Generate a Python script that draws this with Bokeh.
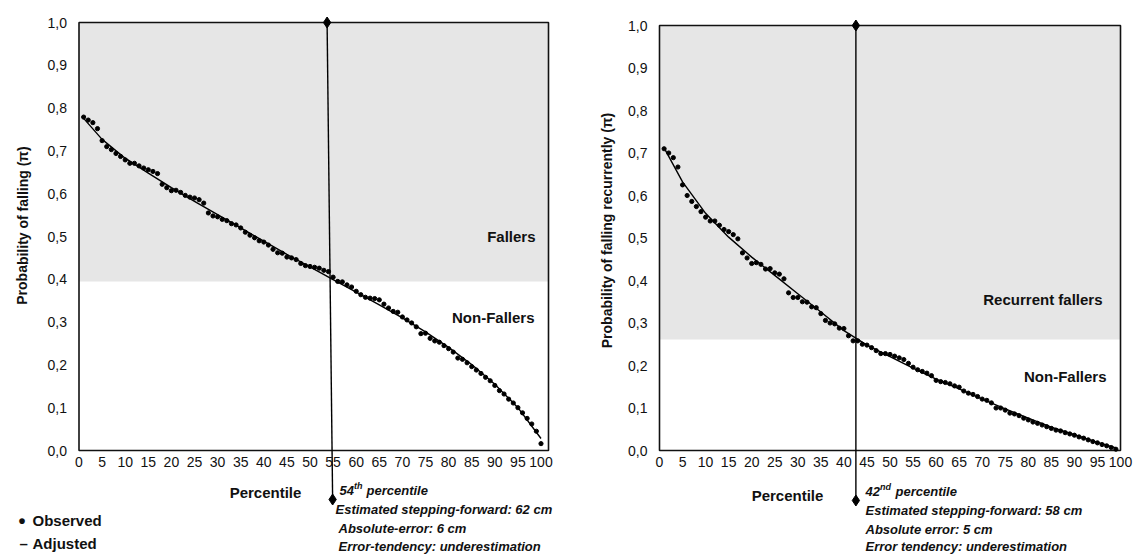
from bokeh.plotting import figure
from bokeh.layouts import row
from bokeh.models import FixedTicker, CustomJSTickFormatter, Range1d
from bokeh.core.properties import value
from bokeh.embed import file_html
from bokeh.resources import INLINE

FONT = "Liberation Sans"
H = 554

# ---------------- data ----------------
percentile_ticks = list(range(0, 101, 5))
probability_ticks = [0.0, 0.1, 0.2, 0.3, 0.4, 0.5, 0.6, 0.7, 0.8, 0.9, 1.0]

left_obs_x = list(range(1, 101))
left_obs_y = [0.779, 0.772, 0.766, 0.752, 0.724, 0.710, 0.703, 0.694, 0.687, 0.679,
              0.671, 0.671, 0.665, 0.660, 0.656, 0.652, 0.647, 0.622, 0.614, 0.607,
              0.608, 0.603, 0.596, 0.592, 0.590, 0.586, 0.578, 0.555, 0.548, 0.546,
              0.540, 0.537, 0.530, 0.527, 0.520, 0.510, 0.503, 0.497, 0.490, 0.487,
              0.480, 0.470, 0.462, 0.461, 0.452, 0.450, 0.446, 0.437, 0.432, 0.430,
              0.428, 0.426, 0.421, 0.418, 0.405, 0.395, 0.394, 0.387, 0.382, 0.372,
              0.364, 0.358, 0.356, 0.355, 0.352, 0.342, 0.333, 0.325, 0.323, 0.312,
              0.305, 0.298, 0.289, 0.273, 0.274, 0.262, 0.256, 0.253, 0.245, 0.238,
              0.230, 0.216, 0.213, 0.205, 0.196, 0.188, 0.180, 0.171, 0.163, 0.152,
              0.140, 0.132, 0.120, 0.111, 0.100, 0.088, 0.075, 0.062, 0.045, 0.016]
left_adj_x = [1, 5, 10, 15, 20, 25, 30, 35, 40, 45, 50, 55, 60, 65, 70, 75, 80, 85, 90, 95, 100]
left_adj_y = [0.776, 0.727, 0.683, 0.648, 0.614, 0.582, 0.551, 0.520, 0.489, 0.458, 0.429,
              0.399, 0.370, 0.340, 0.310, 0.277, 0.241, 0.201, 0.155, 0.100, 0.028]
left_threshold = 0.395
left_cut = [53.7, 54.9]          # percentile line (top, bottom)
left_cut_bottom_y = -0.1145

right_obs_x = list(range(1, 100))
right_obs_y = [0.710, 0.700, 0.689, 0.667, 0.625, 0.600, 0.586, 0.574, 0.562, 0.549,
               0.540, 0.540, 0.530, 0.520, 0.515, 0.508, 0.498, 0.465, 0.453, 0.440,
               0.442, 0.438, 0.427, 0.428, 0.418, 0.415, 0.404, 0.371, 0.360, 0.360,
               0.350, 0.349, 0.338, 0.336, 0.322, 0.306, 0.300, 0.298, 0.288, 0.287,
               0.270, 0.258, 0.258, 0.250, 0.248, 0.242, 0.235, 0.228, 0.228, 0.226,
               0.222, 0.218, 0.214, 0.205, 0.196, 0.190, 0.186, 0.182, 0.176, 0.165,
               0.162, 0.160, 0.157, 0.152, 0.149, 0.140, 0.135, 0.132, 0.127, 0.121,
               0.118, 0.112, 0.100, 0.100, 0.095, 0.088, 0.086, 0.082, 0.076, 0.072,
               0.067, 0.064, 0.060, 0.056, 0.052, 0.048, 0.046, 0.042, 0.039, 0.036,
               0.032, 0.029, 0.025, 0.021, 0.018, 0.014, 0.011, 0.007, 0.003]
right_adj_x = [1, 5, 10, 15, 20, 25, 30, 35, 40, 45, 50, 55, 60, 65, 70, 75, 80, 85, 90, 95, 99]
right_adj_y = [0.712, 0.632, 0.558, 0.502, 0.455, 0.412, 0.369, 0.326, 0.282, 0.248, 0.221,
               0.194, 0.168, 0.145, 0.121, 0.098, 0.076, 0.055, 0.037, 0.019, 0.006]
right_threshold = 0.261
right_cut = [42.6, 42.6]
right_cut_bottom_y = -0.1176


def make_panel(fig_left, width, x_zero, x_px, y_zero, y_px):
    xr = Range1d((fig_left - x_zero) / x_px, (fig_left + width - x_zero) / x_px)
    yr = Range1d(-(H - y_zero) / y_px, y_zero / y_px)
    p = figure(width=width, height=H, x_range=xr, y_range=yr,
               output_backend="svg", toolbar_location=None, min_border=0)
    p.min_border_left = p.min_border_right = p.min_border_top = p.min_border_bottom = 0
    p.outline_line_color = None
    p.grid.visible = False
    p.background_fill_color = "white"
    p.border_fill_color = "white"
    for ax in (p.xaxis[0], p.yaxis[0]):
        ax.fixed_location = 0
        ax.axis_line_color = None
        ax.major_tick_line_color = None
        ax.minor_tick_line_color = None
        ax.major_tick_in = 0
        ax.major_tick_out = 0
        ax.major_label_text_font = FONT
        ax.major_label_text_font_size = "14px"
        ax.major_label_text_color = "#111111"
    p.xaxis.ticker = FixedTicker(ticks=percentile_ticks)
    p.xaxis.major_label_standoff = 6
    p.yaxis.ticker = FixedTicker(ticks=probability_ticks)
    p.yaxis.formatter = CustomJSTickFormatter(code="return tick.toFixed(1).replace('.', ',');")
    p.yaxis.major_label_standoff = 12

    def sx(X):
        return (X - x_zero) / x_px

    def sy(Y):
        return (y_zero - Y) / y_px

    return p, sx, sy


def txt(p, x, y, s, size, style="bold", align="left", angle=0.0):
    p.text(x=[x], y=[y], text=[s], text_font=value(FONT), text_font_size=size,
           text_font_style=style, text_align=align, text_baseline="middle",
           text_color="#111111", angle=angle)


def draw(p, obs_x, obs_y, adj_x, adj_y, thr, xmax, cut, cut_y):
    p.quad(left=[0], right=[xmax], bottom=[thr], top=[1.0], fill_color="#e6e6e6", line_color=None)
    p.quad(left=[0], right=[xmax], bottom=[0], top=[1.0], fill_color=None,
           line_color="#111111", line_width=1.6)
    p.line(adj_x, adj_y, line_color="black", line_width=1.4)
    p.scatter(obs_x, obs_y, size=4.2, color="black")
    p.line(cut, [1.0, cut_y], line_color="black", line_width=1.4)
    p.scatter(cut, [1.0, cut_y], marker="diamond", size=11, color="black")


# ---------------- left panel ----------------
pl, lx, ly = make_panel(0, 588, 78.5, 4.62, 450, 428)
draw(pl, left_obs_x, left_obs_y, left_adj_x, left_adj_y, left_threshold,
     lx(548), left_cut, left_cut_bottom_y)
txt(pl, lx(535), ly(236), "Fallers", "15px", align="right")
txt(pl, lx(534), ly(317), "Non-Fallers", "15px", align="right")
txt(pl, lx(22), ly(225), "Probability of falling (π)", "14px", align="center", angle=1.5707963)
txt(pl, lx(265), ly(492), "Percentile", "15px", align="center")
txt(pl, lx(18), ly(520), "•", "20px")
txt(pl, lx(32), ly(520), "Observed", "15px")
txt(pl, lx(19), ly(543), "–", "15px")
txt(pl, lx(32), ly(543), "Adjusted", "15px")
txt(pl, lx(339), ly(490), "54", "13px", style="bold italic")
txt(pl, lx(353.5), ly(485.5), "th", "9px", style="bold italic")
txt(pl, lx(366), ly(490), "percentile", "13px", style="bold italic")
txt(pl, lx(335), ly(509), "Estimated stepping-forward: 62 cm", "13px", style="bold italic")
txt(pl, lx(338), ly(528), "Absolute-error: 6 cm", "13px", style="bold italic")
txt(pl, lx(338), ly(546), "Error-tendency: underestimation", "13px", style="bold italic")

# ---------------- right panel ----------------
pr, rx, ry = make_panel(588, 558, 659, 4.61, 450, 425)
draw(pr, right_obs_x, right_obs_y, right_adj_x, right_adj_y, right_threshold,
     100, right_cut, right_cut_bottom_y)
txt(pr, rx(1102), ry(299), "Recurrent fallers", "15px", align="right")
txt(pr, rx(1106), ry(376), "Non-Fallers", "15px", align="right")
txt(pr, rx(606), ry(230), "Probability of falling recurrently (π)", "14px", align="center", angle=1.5707963)
txt(pr, rx(787), ry(495), "Percentile", "15px", align="center")
txt(pr, rx(865), ry(491), "42", "13px", style="bold italic")
txt(pr, rx(879.5), ry(486.5), "nd", "9px", style="bold italic")
txt(pr, rx(895), ry(491), "percentile", "13px", style="bold italic")
txt(pr, rx(865), ry(510), "Estimated stepping-forward: 58 cm", "13px", style="bold italic")
txt(pr, rx(865), ry(529), "Absolute error: 5 cm", "13px", style="bold italic")
txt(pr, rx(865), ry(546), "Error tendency: underestimation", "13px", style="bold italic")

layout = row(pl, pr)
open("out.html", "w").write(file_html(layout, INLINE))
